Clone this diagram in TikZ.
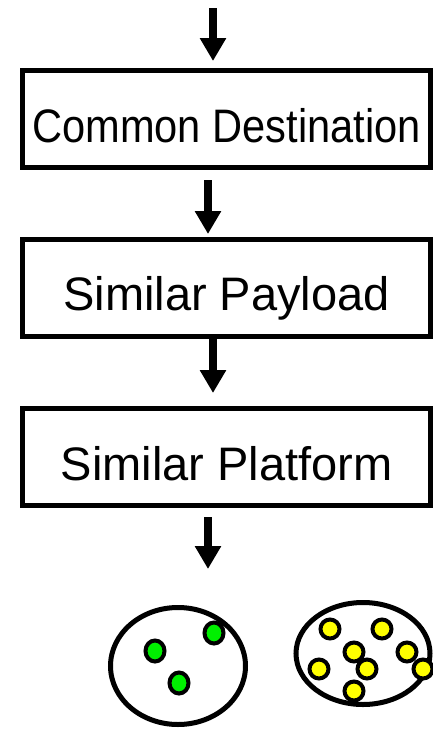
\documentclass[tikz,border=0pt]{standalone}
\usepackage{fontspec}
\setmainfont{Liberation Sans}
\usetikzlibrary{arrows.meta}
\definecolor{dotgreen}{RGB}{0,240,0}
\definecolor{dotyellow}{RGB}{255,255,0}
\tikzset{
  stagebox/.style={draw=black, line width=5pt, minimum width=408pt, minimum height=97pt, inner sep=0pt},
  stagetext/.style={anchor=base, inner sep=0pt, font=\fontsize{47}{50}\selectfont},
  flowarrow/.style={line width=8pt, -{Triangle[width=25pt,length=23pt]}, shorten >=-1pt},
  group/.style={draw=black, line width=5pt},
  gdot/.style={draw=black, line width=4pt, fill=dotgreen},
  ydot/.style={draw=black, line width=4pt, fill=dotyellow}
}
\begin{document}
\begin{tikzpicture}[x=1pt, y=-1pt]
\useasboundingbox (0,0) rectangle (433,729);
% boxes
\node[stagebox] (b1) at (226.5,119) {};
\node[stagetext] (t1) at (226.5,142) {\scalebox{0.885}[1]{Common Destination}};
\node[stagebox] (b2) at (226.5,287.5) {};
\node[stagetext] (t2) at (226.5,310) {Similar Payload};
\node[stagebox] (b3) at (226.5,457) {};
\node[stagetext] (t3) at (226.5,480) {Similar Platform};
% arrow coordinates
\coordinate (a1s) at (213,8);
\coordinate (a1e) at (213,60);
\coordinate (a2s) at (208,180);
\coordinate (a2e) at (208,233);
\coordinate (a3s) at (213,338);
\coordinate (a3e) at (213,392);
\coordinate (a4s) at (208,517);
\coordinate (a4e) at (208,568);
\draw[flowarrow] (a1s) -- (a1e);
\draw[flowarrow] (a2s) -- (a2e);
\draw[flowarrow] (a3s) -- (a3e);
\draw[flowarrow] (a4s) -- (a4e);
% groups
\draw[group] (178,666) ellipse [x radius=67.5, y radius=58.5];
\draw[group] (363,653.5) ellipse [x radius=67, y radius=51];
% green dots
\draw[gdot] (155,651) ellipse [x radius=9.5, y radius=10.5];
\draw[gdot] (214,633) ellipse [x radius=9.5, y radius=10.5];
\draw[gdot] (179,683) ellipse [x radius=9.5, y radius=10.5];
% yellow dots
\draw[ydot] (330,629) ellipse [x radius=9.5, y radius=9.5];
\draw[ydot] (382,629) ellipse [x radius=9.5, y radius=9.5];
\draw[ydot] (354,652) ellipse [x radius=9.5, y radius=9.5];
\draw[ydot] (407,652) ellipse [x radius=9.5, y radius=9.5];
\draw[ydot] (319,669) ellipse [x radius=9.5, y radius=9.5];
\draw[ydot] (367,669) ellipse [x radius=9.5, y radius=9.5];
\draw[ydot] (423,669) ellipse [x radius=9.5, y radius=9.5];
\draw[ydot] (354,691) ellipse [x radius=9.5, y radius=9.5];
\end{tikzpicture}
\end{document}
